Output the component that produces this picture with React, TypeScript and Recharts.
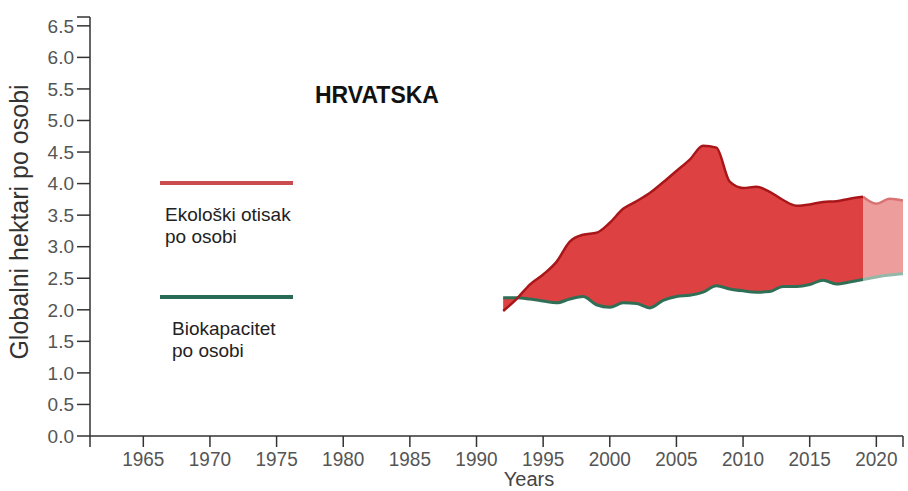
import React from 'react';
import {
  ComposedChart,
  Area,
  Line,
  XAxis,
  YAxis,
} from 'recharts';

// Hrvatska - ekološki otisak i biokapacitet (gha po osobi)
const years = [
  1992, 1993, 1994, 1995, 1996, 1997, 1998, 1999, 2000, 2001, 2002,
  2003, 2004, 2005, 2006, 2007, 2008, 2009, 2010, 2011, 2012, 2013,
  2014, 2015, 2016, 2017, 2018, 2019, 2020, 2021, 2022,
];
const footprint = [
  1.98, 2.17, 2.4, 2.56, 2.76, 3.08, 3.19, 3.22, 3.38, 3.6, 3.72,
  3.85, 4.02, 4.2, 4.38, 4.6, 4.57, 4.03, 3.93, 3.95, 3.87, 3.74,
  3.65, 3.67, 3.71, 3.72, 3.76, 3.79, 3.68, 3.76, 3.73,
];
const biocapacity = [
  2.19, 2.19, 2.17, 2.14, 2.11, 2.17, 2.21, 2.08, 2.04, 2.11, 2.1,
  2.03, 2.15, 2.21, 2.23, 2.28, 2.38, 2.33, 2.3, 2.28, 2.29, 2.37,
  2.37, 2.4, 2.47, 2.41, 2.44, 2.48, 2.52, 2.55, 2.57,
];
const LAST_MEASURED = 2019;

const xTicks = [1961, 1965, 1970, 1975, 1980, 1985, 1990, 1995, 2000, 2005, 2010, 2015, 2020, 2022];
const yTicks = [0, 0.5, 1, 1.5, 2, 2.5, 3, 3.5, 4, 4.5, 5, 5.5, 6, 6.5, 6.64];

const FONT = '"Liberation Sans", Arial, sans-serif';

const data = years.map((year, i) => {
  const measured = year <= LAST_MEASURED;
  const forecast = year >= LAST_MEASURED;
  return {
    year,
    footprint: measured ? footprint[i] : null,
    biocapacity: measured ? biocapacity[i] : null,
    gap: measured ? [biocapacity[i], footprint[i]] : null,
    footprintF: forecast ? footprint[i] : null,
    biocapacityF: forecast ? biocapacity[i] : null,
    gapF: forecast ? [biocapacity[i], footprint[i]] : null,
  };
});

// x tick labels look a little taller in the original, stretch them vertically
const YearTick = ({ x, y, payload }: any) => {
  const v = payload.value;
  if (v === 1961 || v === 2022) return null;
  const base = y + 15;
  return (
    <text
      x={x}
      y={base}
      textAnchor="middle"
      fill="#555"
      fontSize={19}
      fontFamily={FONT}
      transform={`translate(0 ${base}) scale(1 1.1) translate(0 ${-base})`}
    >
      {v}
    </text>
  );
};

const ChartLegend = () => (
  <div style={{ position: 'absolute', left: 160, top: 170, width: 150, height: 200, fontFamily: FONT, fontSize: 19, lineHeight: '22px', color: '#222' }}>
    <div style={{ position: 'absolute', left: 0, top: 11, width: 133, height: 4, background: '#c94c4f' }} />
    <div style={{ position: 'absolute', left: 5, top: 34, whiteSpace: 'nowrap' }}>
      Ekološki otisak<br />po osobi
    </div>
    <div style={{ position: 'absolute', left: 0, top: 125, width: 133, height: 4, background: '#2a6b58' }} />
    <div style={{ position: 'absolute', left: 12, top: 148, whiteSpace: 'nowrap' }}>
      Biokapacitet<br />po osobi
    </div>
  </div>
);

const App: React.FC = () => {
  return (
    <div style={{ position: 'absolute', left: 0, top: 0, width: 908, height: 491, background: '#fff' }}>
      <ComposedChart
        width={908}
        height={491}
        data={data}
        margin={{ top: 17, right: 5, bottom: 0, left: 30 }}
      >
        <XAxis
          dataKey="year"
          type="number"
          domain={[1961, 2022]}
          ticks={xTicks}
          interval={0}
          allowDataOverflow
          height={55}
          tickSize={11}
          tickMargin={4}
          axisLine={{ stroke: '#333', strokeWidth: 1.5 }}
          tickLine={{ stroke: '#333', strokeWidth: 1.5 }}
          tick={<YearTick />}
          label={({ viewBox }: any) => (
            <text x={viewBox.x + 439} y={viewBox.y + 50} textAnchor="middle" fill="#444" fontSize={20} fontFamily={FONT}>
              Years
            </text>
          )}
        />
        <YAxis
          type="number"
          domain={[0, 6.64]}
          ticks={yTicks}
          interval={0}
          allowDataOverflow
          width={60}
          tickSize={13}
          tickMargin={3}
          tickFormatter={(v: number) => (v > 6.5 ? '' : v.toFixed(1))}
          axisLine={{ stroke: '#333', strokeWidth: 1.5 }}
          tickLine={{ stroke: '#333', strokeWidth: 1.5 }}
          tick={{ fill: '#555', fontSize: 19, fontFamily: FONT }}
          label={({ viewBox }: any) => (
            <text
              x={viewBox.x - 2}
              y={222}
              transform={`rotate(-90 ${viewBox.x - 2} 222)`}
              textAnchor="middle"
              fill="#333"
              fontSize={25}
              fontFamily={FONT}
            >
              Globalni hektari po osobi
            </text>
          )}
        />

        <Area dataKey="gap" type="monotone" fill="#dd4141" fillOpacity={1} stroke="none" isAnimationActive={false} />
        <Area dataKey="gapF" type="monotone" fill="#ee9d9d" fillOpacity={1} stroke="none" isAnimationActive={false} />

        <Line dataKey="biocapacityF" type="monotone" stroke="#93b8a8" strokeWidth={3} dot={false} isAnimationActive={false} />
        <Line dataKey="footprintF" type="monotone" stroke="#d97373" strokeWidth={2.5} dot={false} isAnimationActive={false} />
        <Line dataKey="biocapacity" type="monotone" stroke="#2e6f56" strokeWidth={3} dot={false} isAnimationActive={false} />
        <Line dataKey="footprint" type="monotone" stroke="#a9161a" strokeWidth={2.5} dot={false} isAnimationActive={false} />
      </ComposedChart>
      <ChartLegend />
      <div
        style={{
          position: 'absolute',
          left: 315,
          top: 80,
          fontFamily: FONT,
          fontWeight: 'bold',
          fontSize: 23,
          color: '#111',
          lineHeight: '30px',
        }}
      >
        HRVATSKA
      </div>
    </div>
  );
};

export default App;
